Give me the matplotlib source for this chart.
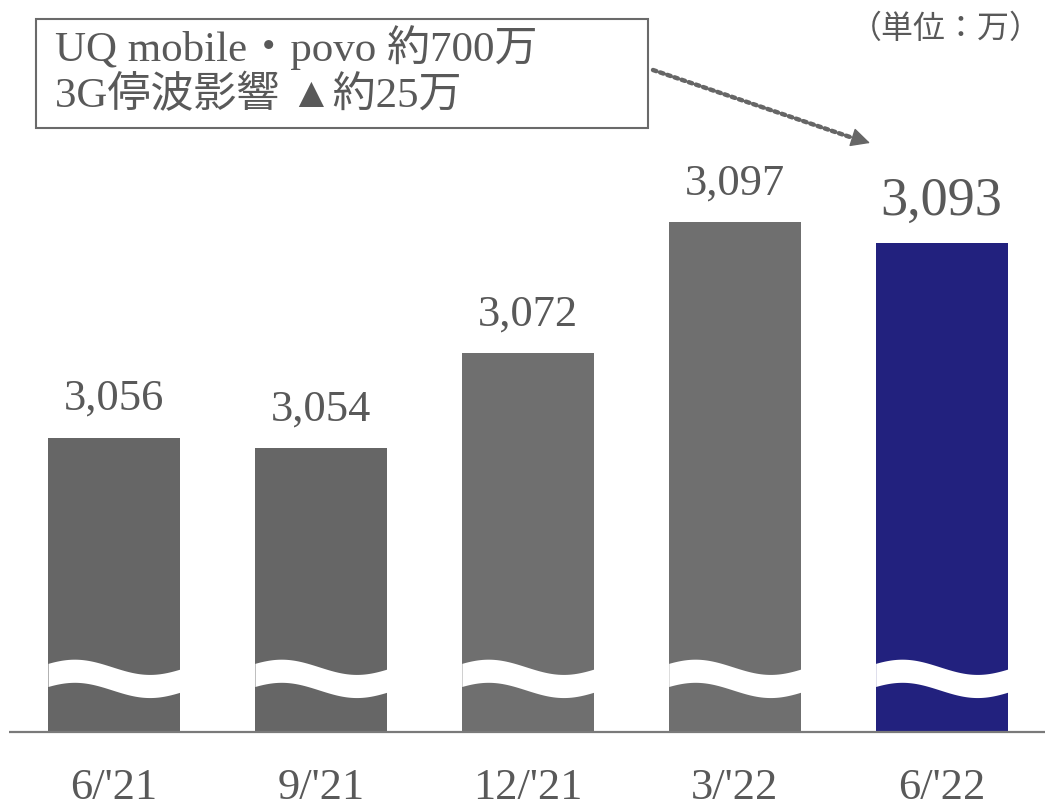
import numpy as np
import matplotlib
matplotlib.use("Agg")
from matplotlib import pyplot as plt
from matplotlib.patches import Rectangle

plt.rcParams["font.family"] = ["Liberation Serif", "Noto Sans CJK JP", "DejaVu Sans"]

# data
periods = ["6/'21", "9/'21", "12/'21", "3/'22", "6/'22"]
subscribers = [3056, 3054, 3072, 3097, 3093]
bar_colors = ["#666666", "#666666", "#6f6f6f", "#6f6f6f", "#22217e"]
label_sizes = [32, 32, 32, 32, 39]
note_lines = ["UQ mobile・povo 約700万", "3G停波影響 ▲約25万"]
unit_text = "（単位：万）"

W, H = 1048, 808
base = 3000
fig = plt.figure(figsize=(W / 100, H / 100), dpi=100)
ax = fig.add_axes([0, 0, 1, 1])
ax.set_xlim(-0.551, 4.514)
ax.set_ylim(2985.55, 3139.2)
ax.axis("off")

text_c = "#595959"


def px(x, y):
    "pixel (from top-left) -> figure fraction"
    return x / W, 1 - y / H


x = np.arange(len(periods))
width = 0.638
vals = np.array(subscribers) - base
ax.bar(x, vals, bottom=base, width=width, color=bar_colors, zorder=2)

# wavy break across each bar
t = np.linspace(0, 1, 60)
wave = 1.45 * np.cos(2 * np.pi * (t - 0.2) / 1.14)
upper = 3012.4 + wave
lower = upper - 4.4
for xi in x:
    xs = xi - width / 2 + t * width
    ax.fill_between(xs, lower, upper, color="white", lw=0, zorder=3)

# baseline
ax.plot([-0.508, 4.5], [base, base], color="#7a7a7a", lw=1.6, zorder=4,
        solid_capstyle="butt")

# value labels
for xi, v, fs in zip(x, subscribers, label_sizes):
    ax.annotate(f"{v:,}", (xi, v), xytext=(0, 20), textcoords="offset points",
                ha="center", va="baseline", fontsize=fs, color=text_c)

# category labels
for xi, lab in zip(x, periods):
    ax.text(xi, 2987.2, lab, ha="center", va="baseline", fontsize=32,
            color=text_c)

# note box
bx0, by0 = px(36, 128)
bx1, by1 = px(648, 19)
fig.patches.append(Rectangle((bx0, by0), bx1 - bx0, by1 - by0,
                             transform=fig.transFigure, fill=False,
                             edgecolor="#6a6a6a", lw=1.5))
for line, yb in zip(note_lines, [61, 107]):
    fig.text(*px(55, yb), line, ha="left", va="baseline", fontsize=31,
             color=text_c)

# dotted arrow
ax.annotate("", xy=px(850, 137), xytext=px(653, 70),
            xycoords="figure fraction", textcoords="figure fraction",
            arrowprops=dict(arrowstyle="-", color="#666666", lw=3.2,
                            linestyle=(0, (0.8, 0.9)), shrinkA=0, shrinkB=0))
ax.annotate("", xy=px(870, 143), xytext=px(848, 136),
            xycoords="figure fraction", textcoords="figure fraction",
            arrowprops=dict(arrowstyle="-|>", color="#666666", lw=1,
                            mutation_scale=30, shrinkA=0, shrinkB=0))

# unit
fig.text(*px(1042, 38), unit_text, ha="right", va="baseline", fontsize=23,
         color=text_c)

fig.savefig("out.png", dpi=100)
